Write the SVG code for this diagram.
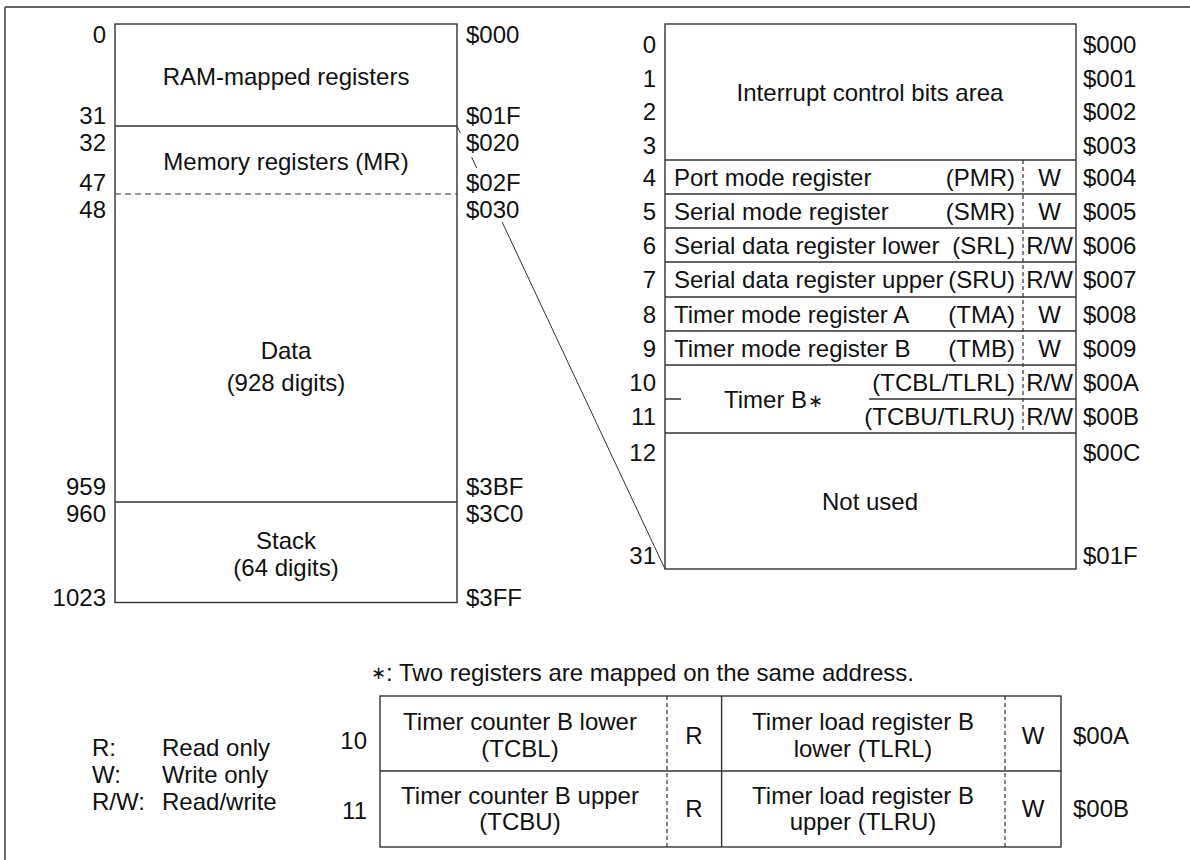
<svg xmlns="http://www.w3.org/2000/svg" width="1190" height="860" viewBox="0 0 1190 860">
<style>
.ln{stroke:#333;stroke-width:1.4;fill:none}
.thin{stroke:#333;stroke-width:1;fill:none}
.dh{stroke:#333;stroke-width:1.2;stroke-dasharray:6 4;fill:none}
.dv{stroke:#333;stroke-width:1.2;stroke-dasharray:4 3;fill:none}
text{font-family:"Liberation Sans",Arial,"DejaVu Sans",sans-serif;font-size:24px;fill:#111}
.ast{font-family:"DejaVu Sans",sans-serif;font-size:18px}
.m{text-anchor:middle}
.e{text-anchor:end}
</style>
<rect x="0" y="0" width="1190" height="860" fill="#fff"/>
<g id="frame">
<path class="ln" d="M5 7H1190M5 7V860" stroke="#111"/>
</g>
<g id="connectors">
<path class="thin" d="M457 126L460.3 133"/>
<path class="thin" d="M471.6 157L476.7 168"/>
<path class="thin" d="M502.1 222L665 569"/>
</g>
<g id="ram-map">
<rect class="ln" x="115" y="24" width="342" height="578.5"/>
<path class="ln" d="M115 126H457M115 502H457"/>
<path class="dh" d="M115 194H457"/>
<text class="m" x="286" y="85">RAM-mapped registers</text>
<text class="m" x="286" y="170">Memory registers (MR)</text>
<text class="m" x="286" y="358.5">Data</text>
<text class="m" x="286" y="390.5">(928 digits)</text>
<text class="m" x="286" y="548.5">Stack</text>
<text class="m" x="286" y="575.5">(64 digits)</text>
<text class="e" x="106" y="42.5">0</text>
<text class="e" x="106" y="124">31</text>
<text class="e" x="106" y="151">32</text>
<text class="e" x="106" y="190.5">47</text>
<text class="e" x="106" y="217.5">48</text>
<text class="e" x="106" y="494.5">959</text>
<text class="e" x="106" y="521.5">960</text>
<text class="e" x="106" y="605.5">1023</text>
<text x="466" y="43">$000</text>
<text x="466" y="124">$01F</text>
<text x="466" y="151">$020</text>
<text x="466" y="190.5">$02F</text>
<text x="466" y="217.5">$030</text>
<text x="466" y="494.5">$3BF</text>
<text x="466" y="521.5">$3C0</text>
<text x="466" y="605.5">$3FF</text>
</g>
<g id="register-map">
<rect class="ln" x="665" y="24" width="411" height="545"/>
<path class="ln" d="M665 160H1076M665 194H1076M665 228H1076M665 262H1076M665 297H1076M665 331H1076M665 365H1076M665 433H1076M869 399H1076M665 399H681"/>
<path class="dv" d="M1023 160V433"/>
<text class="m" x="870" y="100.5">Interrupt control bits area</text>
<text x="674" y="185.5">Port mode register</text>
<text class="e" x="1015" y="185.5">(PMR)</text>
<text class="m" x="1049.5" y="185.5">W</text>
<text x="674" y="219.5">Serial mode register</text>
<text class="e" x="1015" y="219.5">(SMR)</text>
<text class="m" x="1049.5" y="219.5">W</text>
<text x="674" y="253.5">Serial data register lower</text>
<text class="e" x="1015" y="253.5">(SRL)</text>
<text class="m" x="1049.5" y="253.5">R/W</text>
<text x="674" y="287.5">Serial data register upper</text>
<text class="e" x="1015" y="287.5">(SRU)</text>
<text class="m" x="1049.5" y="287.5">R/W</text>
<text x="674" y="322.5">Timer mode register A</text>
<text class="e" x="1015" y="322.5">(TMA)</text>
<text class="m" x="1049.5" y="322.5">W</text>
<text x="674" y="356.5">Timer mode register B</text>
<text class="e" x="1015" y="356.5">(TMB)</text>
<text class="m" x="1049.5" y="356.5">W</text>
<text x="724" y="407.5">Timer B<tspan class="ast" dx="1" dy="-1">∗</tspan></text>
<text class="e" x="1015" y="391">(TCBL/TLRL)</text>
<text class="m" x="1049.5" y="391">R/W</text>
<text class="e" x="1015" y="425">(TCBU/TLRU)</text>
<text class="m" x="1049.5" y="425">R/W</text>
<text class="m" x="870" y="509.5">Not used</text>
<text class="e" x="656" y="52.5">0</text>
<text class="e" x="656" y="86.5">1</text>
<text class="e" x="656" y="119.5">2</text>
<text class="e" x="656" y="153.5">3</text>
<text class="e" x="656" y="185.5">4</text>
<text class="e" x="656" y="219.5">5</text>
<text class="e" x="656" y="253.5">6</text>
<text class="e" x="656" y="287.5">7</text>
<text class="e" x="656" y="322.5">8</text>
<text class="e" x="656" y="356.5">9</text>
<text class="e" x="656" y="391">10</text>
<text class="e" x="656" y="425">11</text>
<text class="e" x="656" y="460.5">12</text>
<text class="e" x="656" y="563.5">31</text>
<text x="1083" y="52.5">$000</text>
<text x="1083" y="86.5">$001</text>
<text x="1083" y="119.5">$002</text>
<text x="1083" y="153.5">$003</text>
<text x="1083" y="185.5">$004</text>
<text x="1083" y="219.5">$005</text>
<text x="1083" y="253.5">$006</text>
<text x="1083" y="287.5">$007</text>
<text x="1083" y="322.5">$008</text>
<text x="1083" y="356.5">$009</text>
<text x="1083" y="391">$00A</text>
<text x="1083" y="425">$00B</text>
<text x="1083" y="460.5">$00C</text>
<text x="1083" y="563.5">$01F</text>
</g>
<g id="footnote">
<text x="371" y="681"><tspan class="ast" dy="-2">∗</tspan><tspan dy="2">: Two registers are mapped on the same address.</tspan></text>
</g>
<g id="timer-b-table">
<rect class="ln" x="380" y="696" width="681" height="151"/>
<path class="ln" d="M380 771H1061M721.6 696V847"/>
<path class="dv" d="M667 696V847M1005 696V847"/>
<text class="m" x="520" y="730">Timer counter B lower</text>
<text class="m" x="520" y="756.5">(TCBL)</text>
<text class="m" x="694" y="743.5">R</text>
<text class="m" x="863" y="729.5">Timer load register B</text>
<text class="m" x="863" y="756.5">lower (TLRL)</text>
<text class="m" x="1033" y="743.5">W</text>
<text x="1073" y="743.5">$00A</text>
<text class="m" x="520" y="803.5">Timer counter B upper</text>
<text class="m" x="520" y="830">(TCBU)</text>
<text class="m" x="694" y="817">R</text>
<text class="m" x="863" y="803.5">Timer load register B</text>
<text class="m" x="863" y="830">upper (TLRU)</text>
<text class="m" x="1033" y="817">W</text>
<text x="1073" y="817">$00B</text>
<text class="e" x="367" y="748.5">10</text>
<text class="e" x="367" y="818.5">11</text>
</g>
<g id="legend">
<text x="92" y="755.5">R:</text>
<text x="162" y="755.5">Read only</text>
<text x="92" y="782.5">W:</text>
<text x="162" y="782.5">Write only</text>
<text x="92" y="809.5">R/W:</text>
<text x="162" y="809.5">Read/write</text>
</g>
</svg>
